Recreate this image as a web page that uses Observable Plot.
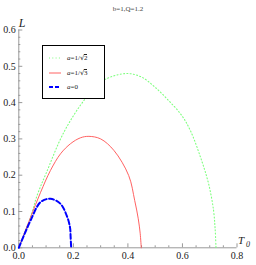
<!DOCTYPE html>
<html>
<head>
<meta charset="utf-8">
<script src="https://cdn.jsdelivr.net/npm/d3@7"></script>
<script src="https://cdn.jsdelivr.net/npm/@observablehq/plot@0.6"></script>
<style>
  body { margin: 0; background: #fff; }
  #wrap { position: relative; width: 256px; height: 265px; }
  #legend {
    position: absolute; left: 42px; top: 45px; width: 61px; height: 52px;
    border: 1.5px solid #000; background: #fff;
    font-family: "Liberation Serif", "DejaVu Serif", serif; font-size: 7px; color: #222;
  }
  .row { position: absolute; left: 0; height: 10px; width: 100%; }
  .row svg { position: absolute; left: 5px; top: 0; }
  .row span.lab { position: absolute; left: 24px; top: 0; line-height: 10px; white-space: nowrap; }
  .rt { font-family: "DejaVu Sans", sans-serif; font-size: 7px; margin-right: -0.5px; }
  .ov { border-top: 0.7px solid #222; line-height: 7px; display: inline-block; }
</style>
</head>
<body>
<div id="wrap"></div>
<script>
// ---- data ----
const seriesNames = ["a=1/\u221A2", "a=1/\u221A3", "a=0"];
const greenT = [0, 0.043, 0.067, 0.10, 0.165, 0.239, 0.30, 0.35, 0.403, 0.451, 0.50, 0.549, 0.598, 0.629, 0.666, 0.696, 0.714, 0.720, 0.723];
const greenL = [0, 0.084, 0.144, 0.205, 0.318, 0.406, 0.456, 0.474, 0.480, 0.470, 0.442, 0.406, 0.364, 0.323, 0.250, 0.176, 0.103, 0.050, 0];
const redT = [0, 0.043, 0.080, 0.116, 0.153, 0.19, 0.226, 0.257, 0.30, 0.349, 0.403, 0.425, 0.438, 0.445, 0.449];
const redL = [0, 0.084, 0.153, 0.213, 0.259, 0.287, 0.303, 0.307, 0.300, 0.268, 0.199, 0.130, 0.080, 0.040, 0];
const blueT = [0, 0.020, 0.043, 0.080, 0.116, 0.153, 0.178, 0.188, 0.190, 0.192];
const blueL = [0, 0.036, 0.075, 0.126, 0.135, 0.121, 0.084, 0.055, 0.030, 0];
const xTicks = [0, 0.2, 0.4, 0.6, 0.8];
const yTicks = [0, 0.1, 0.2, 0.3, 0.4, 0.5, 0.6];
const xMinor = [0.05, 0.1, 0.15, 0.25, 0.3, 0.35, 0.45, 0.5, 0.55, 0.65, 0.7, 0.75];
const yMinor = [0.02, 0.04, 0.06, 0.08, 0.12, 0.14, 0.16, 0.18, 0.22, 0.24, 0.26, 0.28, 0.32, 0.34, 0.36, 0.38, 0.42, 0.44, 0.46, 0.48, 0.52, 0.54, 0.56, 0.58];
const title = "b=1,Q=1.2";

// ---- layout ----
const W = 256, H = 265, ml = 18.3, mr = 19.5, mt = 29.5, mb = 17.7;
const fw = W - ml - mr, fh = H - mt - mb;
const serif = "Liberation Serif, DejaVu Serif, serif";
const axisGray = "#999";

const toPts = (T, L) => T.map((t, i) => ({T: t, L: L[i]}));
const green = toPts(greenT, greenL), red = toPts(redT, redL), blue = toPts(blueT, blueL);

const chart = Plot.plot({
  width: W, height: H,
  marginLeft: ml, marginRight: mr, marginTop: mt, marginBottom: mb,
  x: {domain: [0, 0.8], axis: null},
  y: {domain: [0, 0.6], axis: null},
  style: {background: "#fff", overflow: "visible"},
  marks: [
    Plot.ruleY([0], {stroke: axisGray, strokeWidth: 1}),
    Plot.ruleX([0], {stroke: axisGray, strokeWidth: 1}),
    Plot.tickY(yTicks, {y: d => d, stroke: axisGray, insetRight: fw - 4}),
    Plot.tickY(yMinor, {y: d => d, stroke: axisGray, insetRight: fw - 2}),
    Plot.tickX(xTicks, {x: d => d, stroke: axisGray, insetTop: fh - 4}),
    Plot.tickX(xMinor, {x: d => d, stroke: axisGray, insetTop: fh - 2}),
    Plot.axisY(yTicks, {label: null, tickSize: 0, tickPadding: 3, tickFormat: d => d.toFixed(1), fontSize: 10, fontFamily: serif, fill: "#222"}),
    Plot.axisX(xTicks, {label: null, tickSize: 0, tickPadding: 4, tickFormat: d => d.toFixed(1), fontSize: 10, fontFamily: serif, fill: "#222"}),
    Plot.line(green, {x: "T", y: "L", stroke: "#7dff7d", strokeWidth: 1.1, strokeDasharray: "1,2.3", curve: "catmull-rom"}),
    Plot.line(red, {x: "T", y: "L", stroke: "#ff5050", strokeWidth: 0.9, curve: "catmull-rom"}),
    Plot.line(blue, {x: "T", y: "L", stroke: "#0000ff", strokeWidth: 2, strokeDasharray: "5,2.5", curve: "catmull-rom"}),
    Plot.text(["L"], {frameAnchor: "top-left", dx: 0, dy: -12, fontSize: 12, fontStyle: "italic", fontFamily: serif, fill: "#222"}),
    Plot.text(["T"], {frameAnchor: "bottom-right", dx: 7, dy: -4, fontSize: 11, fontStyle: "italic", fontFamily: serif, fill: "#222"}),
    Plot.text(["0"], {frameAnchor: "bottom-right", dx: 13, dy: -1, fontSize: 8, fontStyle: "italic", fontFamily: serif, fill: "#222"}),
    Plot.text([title], {frameAnchor: "top", dx: 0, dy: -24, fontSize: 7, fontFamily: serif, fill: "#444"})
  ]
});

const wrap = document.getElementById("wrap");
wrap.appendChild(chart);

// legend overlay
const legend = document.createElement("div");
legend.id = "legend";
const styles = [
  {color: "#7dff7d", dash: "1,2.3", w: 1.1, label: '<i>a</i>=1/<span class="rt">\u221A</span><span class="ov">2</span>'},
  {color: "#ff5050", dash: null, w: 0.9, label: '<i>a</i>=1/<span class="rt">\u221A</span><span class="ov">3</span>'},
  {color: "#0000ff", dash: "4,2", w: 2, label: '<i>a</i>=0'}
];
styles.forEach((s, i) => {
  const row = document.createElement("div");
  row.className = "row";
  row.style.top = (7 + i * 14.5) + "px";
  row.innerHTML = `<svg width="14" height="10"><line x1="1" y1="5" x2="13" y2="5" stroke="${s.color}" stroke-width="${s.w}" ${s.dash ? `stroke-dasharray="${s.dash}"` : ""}/></svg><span class="lab">${s.label}</span>`;
  legend.appendChild(row);
});
wrap.appendChild(legend);
</script>
</body>
</html>
